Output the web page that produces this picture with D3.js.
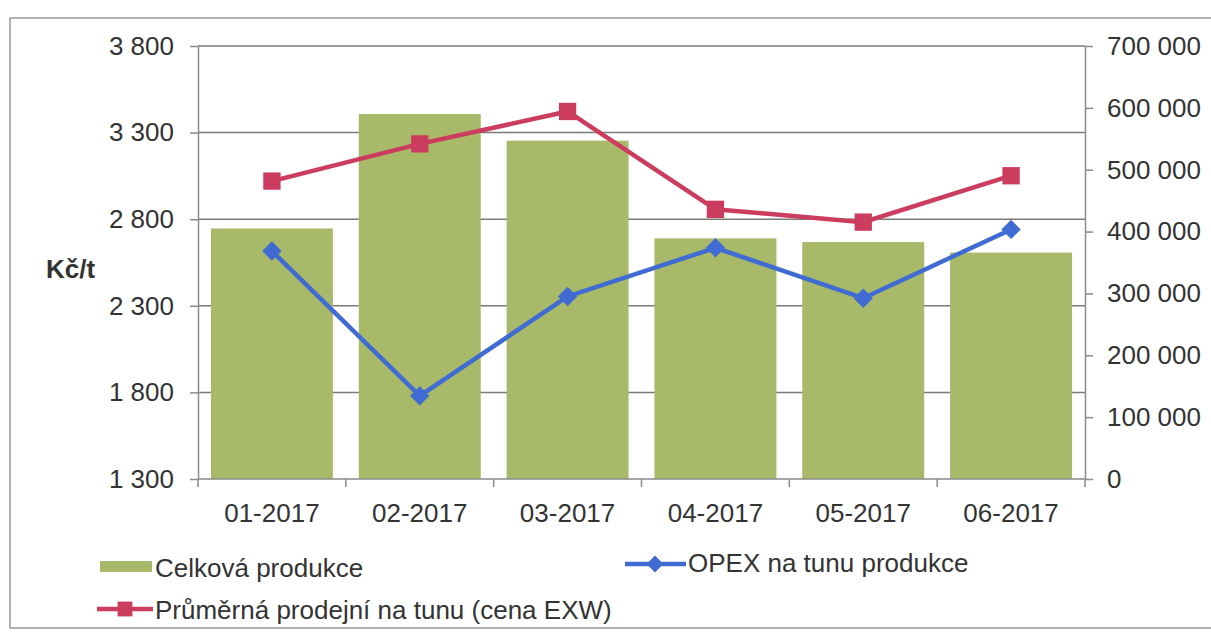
<!DOCTYPE html>
<head>
<meta charset="UTF-8">
<title>Produkce a OPEX</title>
<style>
body { margin: 0; background: #fff; }
text { font-family: "Liberation Sans", Arial, sans-serif; fill: #333; }
.grid line { stroke: #7a7a7a; stroke-width: 1.5px; }
.axis path, .axis line { stroke: #8a8a8a; stroke-width: 1.5px; }
</style>
<body>
<script src="https://cdn.jsdelivr.net/npm/d3@7"></script>
<script>

// months on the x axis
var categories = ["01-2017", "02-2017", "03-2017", "04-2017", "05-2017", "06-2017"];

// bars, right axis
var production = [405000, 590000, 547000, 389000, 383000, 366000];

// lines, left axis (Kč/t)
var opex  = [2616, 1780, 2354, 2635, 2344, 2741];
var price = [3020, 3235, 3422, 2857, 2783, 3051];

var leftTicks  = [1300, 1800, 2300, 2800, 3300, 3800];
var rightTicks = [0, 100000, 200000, 300000, 400000, 500000, 600000, 700000];

var names = ["Celková produkce", "OPEX na tunu produkce", "Průměrná prodejní na tunu (cena EXW)"];

var green = "#a8b96a", blue = "#3f6bd3", red = "#cc3c5e";

var W = 1211, H = 641;
var plot = {left: 198, right: 1085, top: 46, bottom: 479};

var svg = d3.select("body").append("svg")
    .attr("width", W)
    .attr("height", H);

// outer frame
svg.append("rect")
    .attr("x", 10).attr("y", 18)
    .attr("width", 1230).attr("height", 610)
    .attr("fill", "none")
    .attr("stroke", "#9a9a9a")
    .attr("stroke-width", 1.5);

var fmt = d3.formatLocale({decimal: ",", thousands: " ", grouping: [3], currency: ["", ""]}).format(",");

var x = d3.scaleBand()
    .domain(categories)
    .range([plot.left, plot.right])
    .paddingInner(0.175)
    .paddingOuter(0.0875);

var yL = d3.scaleLinear().domain([1300, 3800]).range([plot.bottom, plot.top]);
var yR = d3.scaleLinear().domain([0, 700000]).range([plot.bottom, plot.top]);

// gridlines from the left axis
svg.append("g")
    .attr("class", "grid")
    .selectAll("line")
    .data(leftTicks.slice(1))
    .join("line")
    .attr("x1", plot.left).attr("x2", plot.right)
    .attr("y1", function(d) { return yL(d); })
    .attr("y2", function(d) { return yL(d); });

// bars
svg.append("g")
    .selectAll("rect")
    .data(production)
    .join("rect")
    .attr("x", function(d, i) { return x(categories[i]); })
    .attr("y", function(d) { return yR(d); })
    .attr("width", x.bandwidth())
    .attr("height", function(d) { return yR(0) - yR(d); })
    .attr("fill", green);

// left axis
var axL = svg.append("g")
    .attr("class", "axis")
    .attr("transform", "translate(" + plot.left + ",0)")
    .call(d3.axisLeft(yL).tickValues(leftTicks).tickFormat(fmt).tickSize(8).tickPadding(16).tickSizeOuter(0));
axL.selectAll("text").style("font-size", "26px").attr("fill", "#333");

// right axis
var axR = svg.append("g")
    .attr("class", "axis")
    .attr("transform", "translate(" + plot.right + ",0)")
    .call(d3.axisRight(yR).tickValues(rightTicks).tickFormat(fmt).tickSize(8).tickPadding(14).tickSizeOuter(0));
axR.selectAll("text").style("font-size", "26px").attr("fill", "#333");

// bottom axis: ticks on the band boundaries, labels centred
var bottom = svg.append("g").attr("class", "axis");
bottom.append("line")
    .attr("x1", plot.left).attr("x2", plot.right)
    .attr("y1", plot.bottom).attr("y2", plot.bottom);
var step = x.step();
bottom.selectAll("line.tk")
    .data(d3.range(categories.length + 1))
    .join("line")
    .attr("class", "tk")
    .attr("x1", function(k) { return plot.left + k * step; })
    .attr("x2", function(k) { return plot.left + k * step; })
    .attr("y1", plot.bottom).attr("y2", plot.bottom + 8);
bottom.selectAll("text")
    .data(categories)
    .join("text")
    .attr("x", function(d) { return x(d) + x.bandwidth() / 2; })
    .attr("y", plot.bottom + 43)
    .attr("text-anchor", "middle")
    .style("font-size", "26px")
    .text(function(d) { return d; });

// axis title
svg.append("text")
    .attr("x", 46).attr("y", 278)
    .style("font-size", "26px")
    .style("font-weight", "bold")
    .text("Kč/t");

var line = d3.line()
    .x(function(d, i) { return x(categories[i]) + x.bandwidth() / 2; })
    .y(function(d) { return yL(d); });

var diamond = d3.symbol().type(d3.symbolDiamond2).size(240);
var square  = d3.symbol().type(d3.symbolSquare).size(300);

// OPEX line
svg.append("path").datum(opex)
    .attr("d", line)
    .attr("fill", "none").attr("stroke", blue).attr("stroke-width", 4.5);
svg.selectAll("path.dia")
    .data(opex)
    .join("path")
    .attr("class", "dia")
    .attr("d", diamond)
    .attr("fill", blue)
    .attr("transform", function(d, i) {
        return "translate(" + (x(categories[i]) + x.bandwidth() / 2) + "," + yL(d) + ")";
    });

// price line
svg.append("path").datum(price)
    .attr("d", line)
    .attr("fill", "none").attr("stroke", red).attr("stroke-width", 4.5);
svg.selectAll("path.sq")
    .data(price)
    .join("path")
    .attr("class", "sq")
    .attr("d", square)
    .attr("fill", red)
    .attr("transform", function(d, i) {
        return "translate(" + (x(categories[i]) + x.bandwidth() / 2) + "," + yL(d) + ")";
    });

// ****************** legend ******************
var lg = svg.append("g").style("font-size", "26px");

lg.append("rect")
    .attr("x", 100).attr("y", 561).attr("width", 52).attr("height", 11)
    .attr("fill", green);
lg.append("text").attr("x", 155).attr("y", 577).text(names[0]);

lg.append("line")
    .attr("x1", 625).attr("x2", 686).attr("y1", 564).attr("y2", 564)
    .attr("stroke", blue).attr("stroke-width", 4.5);
lg.append("path")
    .attr("d", d3.symbol().type(d3.symbolDiamond2).size(180))
    .attr("transform", "translate(655,564)")
    .attr("fill", blue);
lg.append("text").attr("x", 688).attr("y", 572).text(names[1]);

lg.append("line")
    .attr("x1", 97).attr("x2", 153).attr("y1", 609).attr("y2", 609)
    .attr("stroke", red).attr("stroke-width", 4.5);
lg.append("path")
    .attr("d", d3.symbol().type(d3.symbolSquare).size(220))
    .attr("transform", "translate(125,609)")
    .attr("fill", red);
lg.append("text").attr("x", 155).attr("y", 619).text(names[2]);

</script>
</body>
